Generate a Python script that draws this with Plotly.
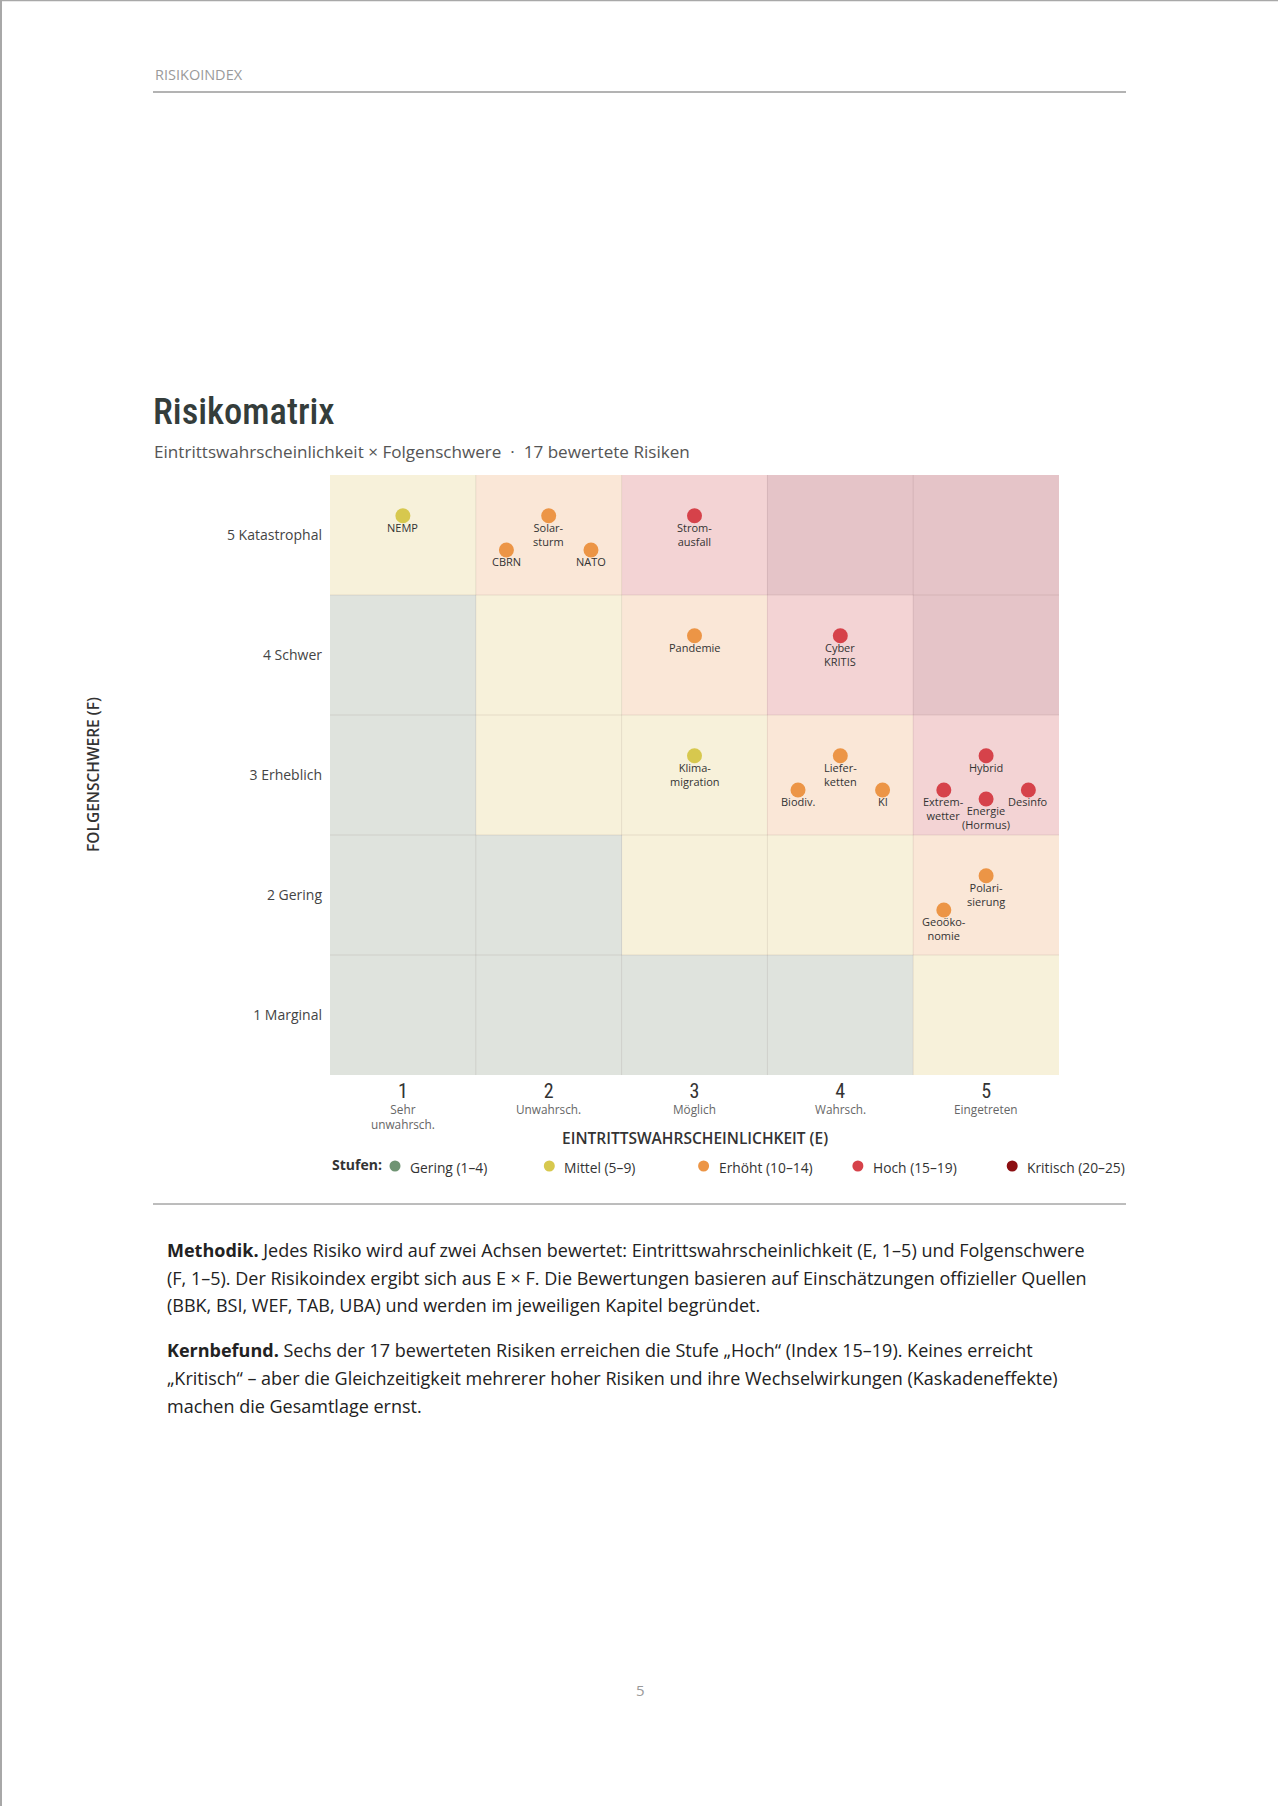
import plotly.graph_objects as go

# ---------------- data ----------------
risk_names = ["NEMP", "Solar-<br>sturm", "CBRN", "NATO", "Strom-<br>ausfall",
              "Pandemie", "Cyber<br>KRITIS", "Klima-<br>migration", "Liefer-<br>ketten",
              "Biodiv.", "KI", "Hybrid", "Extrem-<br>wetter", "Desinfo",
              "Energie<br>(Hormus)", "Polari-<br>sierung", "Geoöko-<br>nomie"]
e_values = [1, 2, 2, 2, 3, 3, 4, 3, 4, 4, 4, 5, 5, 5, 5, 5, 5]
f_values = [5, 5, 5, 5, 5, 4, 4, 3, 3, 3, 3, 3, 3, 3, 3, 2, 2]

e_ticks = [1, 2, 3, 4, 5]
e_numbers = ["1", "2", "3", "4", "5"]
e_labels = ["Sehr<br>unwahrsch.", "Unwahrsch.", "Möglich", "Wahrsch.", "Eingetreten"]
f_ticks = [1, 2, 3, 4, 5]
f_labels = ["1 Marginal", "2 Gering", "3 Erheblich", "4 Schwer", "5 Katastrophal"]

level_names = ["Gering (1–4)", "Mittel (5–9)", "Erhöht (10–14)", "Hoch (15–19)", "Kritisch (20–25)"]
level_upper = [4, 9, 14, 19, 25]

# ---------------- styles ----------------
W, H = 1278, 1806
PL, PR, PT, PB = 330, 1059, 475, 1075
dot_colors = ["#6f9473", "#d7c84e", "#ec9546", "#d6424a", "#8c0f12"]
cell_colors = ["#dfe3dd", "#f7f1da", "#fae7d7", "#f3d3d4", "#e5c4c8"]
BODY = "Open Sans"
COND = "Roboto Condensed, Lato"
slots = {1: [(0, 0.16)],
         2: [(0, 0.16), (-0.29, -0.125)],
         3: [(0, 0.16), (-0.29, -0.125), (0.29, -0.125)],
         4: [(0, 0.16), (-0.29, -0.125), (0.29, -0.125), (0, -0.2)]}


def level_of(score):
    for i, up in enumerate(level_upper):
        if score <= up:
            return i
    return len(level_upper) - 1


def px_x(px):
    return (px - PL) / (PR - PL)


def px_y(py):
    return (PB - py) / (PB - PT)


fig = go.Figure()

# matrix background
z = [[level_of(e * f) for e in e_ticks] for f in f_ticks]
n = len(cell_colors)
fig.add_trace(go.Heatmap(
    x=e_ticks, y=f_ticks, z=z, zmin=0, zmax=n - 1,
    colorscale=[[i / (n - 1), c] for i, c in enumerate(cell_colors)],
    showscale=False, hoverinfo="skip"))

# place risks inside their cells
cell_count = {}
for e, f in zip(e_values, f_values):
    cell_count[(e, f)] = cell_count.get((e, f), 0) + 1
cell_seen = {}
xs, ys, cols = [], [], []
for e, f in zip(e_values, f_values):
    k = cell_seen.get((e, f), 0)
    cell_seen[(e, f)] = k + 1
    dx, dy = slots[cell_count[(e, f)]][k]
    xs.append(e + dx)
    ys.append(f + dy)
    cols.append(dot_colors[level_of(e * f)])

fig.add_trace(go.Scatter(
    x=xs, y=ys, mode="markers",
    marker=dict(size=15, color=cols, line=dict(width=0)),
    hovertext=[r.replace("<br>", "") for r in risk_names], hoverinfo="text",
    cliponaxis=False, showlegend=False))

annotations = []
for x, y, name in zip(xs, ys, risk_names):
    annotations.append(dict(x=x, y=y, xref="x", yref="y", text=name, showarrow=False,
                            xanchor="center", yanchor="top", yshift=-2,
                            font=dict(family=BODY, size=11, color="#333333")))

# cell separator lines
shapes = []
for v in [1.5, 2.5, 3.5, 4.5]:
    shapes.append(dict(type="line", xref="x", yref="y", x0=v, x1=v, y0=0.5, y1=5.5,
                       line=dict(color="rgba(80,50,50,0.10)", width=1), layer="above"))
    shapes.append(dict(type="line", xref="x", yref="y", x0=0.5, x1=5.5, y0=v, y1=v,
                       line=dict(color="rgba(80,50,50,0.10)", width=1), layer="above"))

# x sub labels
for e, lab in zip(e_ticks, e_labels):
    annotations.append(dict(x=e, y=px_y(1099), xref="x", yref="paper", text=lab,
                            showarrow=False, xanchor="center", yanchor="top",
                            font=dict(family=BODY, size=11.8, color="#666666")))

# axis titles
annotations.append(dict(x=0.5, y=px_y(1138), xref="paper", yref="paper",
                        text="EINTRITTSWAHRSCHEINLICHKEIT (E)", showarrow=False,
                        xanchor="center", yanchor="middle",
                        font=dict(family=BODY, size=15.5, color="#333333", weight=600)))
annotations.append(dict(x=px_x(93), y=0.5, xref="paper", yref="paper",
                        text="FOLGENSCHWERE (F)", showarrow=False, textangle=-90,
                        xanchor="center", yanchor="middle",
                        font=dict(family=BODY, size=15.5, color="#333333", weight=600)))

# legend
annotations.append(dict(x=px_x(330), y=px_y(1164), xref="paper", yref="paper",
                        text="<b>Stufen:</b>", showarrow=False, xanchor="left", yanchor="middle",
                        font=dict(family=BODY, size=14, color="#333333")))
leg_x0, leg_step = 395, 154.3
for i, (nm, c) in enumerate(zip(level_names, dot_colors)):
    cx = leg_x0 + i * leg_step
    shapes.append(dict(type="circle", xref="paper", yref="paper", xsizemode="pixel",
                       ysizemode="pixel", xanchor=px_x(cx), yanchor=px_y(1166),
                       x0=-5.5, x1=5.5, y0=-5.5, y1=5.5, fillcolor=c, line=dict(width=0)))
    annotations.append(dict(x=px_x(cx + 13), y=px_y(1167), xref="paper", yref="paper",
                            text=nm, showarrow=False, xanchor="left", yanchor="middle",
                            font=dict(family=BODY, size=13.8, color="#333333")))

# page furniture
annotations.append(dict(x=px_x(153), y=px_y(74.5), xref="paper", yref="paper",
                        text="RISIKOINDEX", showarrow=False, xanchor="left", yanchor="middle",
                        font=dict(family=BODY, size=14.5, color="#9a9a9a")))
annotations.append(dict(x=px_x(151), y=px_y(411), xref="paper", yref="paper",
                        text="Risikomatrix", showarrow=False, xanchor="left", yanchor="middle",
                        font=dict(family=COND, size=36.5, color="#343d3b", weight=500)))
annotations.append(dict(x=px_x(152), y=px_y(451), xref="paper", yref="paper",
                        text="Eintrittswahrscheinlichkeit × Folgenschwere  ·  17 bewertete Risiken",
                        showarrow=False, xanchor="left", yanchor="middle",
                        font=dict(family=BODY, size=17.1, color="#555555")))
annotations.append(dict(x=px_x(640), y=px_y(1690), xref="paper", yref="paper",
                        text="5", showarrow=False, xanchor="center", yanchor="middle",
                        font=dict(family=BODY, size=15, color="#9a9a9a")))

shapes.append(dict(type="line", xref="paper", yref="paper", x0=px_x(153), x1=px_x(1126),
                   y0=px_y(92), y1=px_y(92), line=dict(color="#9a9a9a", width=1.5)))
shapes.append(dict(type="line", xref="paper", yref="paper", x0=px_x(153), x1=px_x(1126),
                   y0=px_y(1204), y1=px_y(1204), line=dict(color="#7a7a7a", width=1)))
shapes.append(dict(type="line", xref="paper", yref="paper", x0=px_x(1), x1=px_x(1),
                   y0=px_y(0), y1=px_y(H), line=dict(color="#a8a8a8", width=2)))
shapes.append(dict(type="line", xref="paper", yref="paper", x0=px_x(0), x1=px_x(W),
                   y0=px_y(0.5), y1=px_y(0.5), line=dict(color="#a8a8a8", width=1.5)))

# body text
para_lines = [
    ("<b>Methodik.</b> Jedes Risiko wird auf zwei Achsen bewertet: Eintrittswahrscheinlichkeit (E, 1–5) und Folgenschwere", 1250),
    ("(F, 1–5). Der Risikoindex ergibt sich aus E × F. Die Bewertungen basieren auf Einschätzungen offizieller Quellen", 1277.5),
    ("(BBK, BSI, WEF, TAB, UBA) und werden im jeweiligen Kapitel begründet.", 1305),
    ("<b>Kernbefund.</b> Sechs der 17 bewerteten Risiken erreichen die Stufe „Hoch“ (Index 15–19). Keines erreicht", 1350),
    ("„Kritisch“ – aber die Gleichzeitigkeit mehrerer hoher Risiken und ihre Wechselwirkungen (Kaskadeneffekte)", 1378),
    ("machen die Gesamtlage ernst.", 1406),
]
for txt, yy in para_lines:
    annotations.append(dict(x=px_x(165), y=px_y(yy), xref="paper", yref="paper", text=txt,
                            showarrow=False, xanchor="left", yanchor="middle",
                            font=dict(family=BODY, size=18, color="#222222")))

fig.update_layout(
    width=W, height=H, autosize=False,
    margin=dict(l=PL, r=W - PR, t=PT, b=H - PB, pad=0),
    paper_bgcolor="white", plot_bgcolor="white",
    showlegend=False,
    xaxis=dict(range=[0.5, 5.5], showgrid=False, zeroline=False, showline=False,
               tickvals=e_ticks, ticktext=e_numbers, ticks="", ticklabelstandoff=2,
               tickfont=dict(family=COND, size=20, color="#333333", weight=400),
               fixedrange=True),
    yaxis=dict(range=[0.5, 5.5], showgrid=False, zeroline=False, showline=False,
               tickvals=f_ticks, ticktext=f_labels, ticks="", ticklabelstandoff=7,
               tickfont=dict(family=BODY, size=14, color="#444444"), fixedrange=True),
    annotations=annotations, shapes=shapes,
)

fig.write_html("out.html", config={"displayModeBar": False},
               post_script="document.body.style.margin='0px';document.body.style.overflow='hidden';")
